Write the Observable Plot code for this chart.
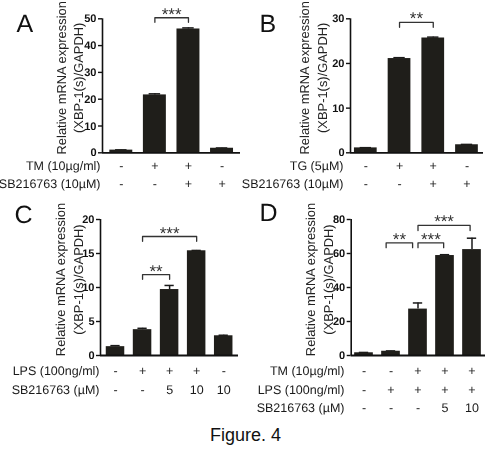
<!DOCTYPE html>
<html><head><meta charset="utf-8">
<script src="https://cdn.jsdelivr.net/npm/d3@7"></script>
<script src="https://cdn.jsdelivr.net/npm/@observablehq/plot@0.6"></script>
<style>
body{margin:0;background:#fff;}
#fig{position:relative;width:486px;height:450px;font-family:'Liberation Sans',Arial,sans-serif;}
#fig svg{position:absolute;overflow:visible;will-change:transform;}
#fig svg text{text-rendering:geometricPrecision;}
#caption{position:absolute;left:210px;top:426px;font-size:18px;line-height:18px;color:#111;white-space:nowrap;}
</style></head><body>
<div id="fig"></div>
<script>
// ---------- data ----------
const yLabel1 = "Relative mRNA expression";
const yLabel2 = "(XBP-1(s)/GAPDH)";
const caption = "Figure. 4";

// Panel A
const aValues = [1.0, 21.6, 46.2, 1.7];
const aErrors = [0.1, 0.4, 0.4, 0.1];
const aTicks = [0, 10, 20, 30, 40, 50];
const aRowLabels = ["TM (10µg/ml)", "SB216763 (10µM)"];
const aRowTM = ["-", "+", "+", "-"];
const aRowSB = ["-", "-", "+", "+"];
const aBrackets = [{from: 1, to: 2, level: 50.4, drop: 48.7, label: "***"}];

// Panel B
const bValues = [1.1, 21.1, 25.7, 1.8];
const bErrors = [0.05, 0.2, 0.2, 0.08];
const bTicks = [0, 10, 20, 30];
const bRowLabels = ["TG (5µM)", "SB216763 (10µM)"];
const bRowTG = ["-", "+", "+", "-"];
const bRowSB = ["-", "-", "+", "+"];
const bBrackets = [{from: 1, to: 2, level: 29.2, drop: 28.1, label: "**"}];

// Panel C
const cValues = [1.3, 3.8, 9.7, 15.4, 2.9];
const cErrors = [0.15, 0.2, 0.6, 0.05, 0.08];
const cTicks = [0, 5, 10, 15, 20];
const cRowLabels = ["LPS (100ng/ml)", "SB216763 (µM)"];
const cRowLPS = ["-", "+", "+", "+", "-"];
const cRowSB = ["-", "-", "5", "10", "10"];
const cBrackets = [
  {from: 1, to: 3, level: 17.5, drop: 16.8, label: "***"},
  {from: 1, to: 2, level: 11.9, drop: 11.2, label: "**"}
];

// Panel D
const dValues = [1.6, 2.5, 27.3, 58.8, 62.3];
const dErrors = [0.2, 0.2, 3.6, 0.5, 6.7];
const dTicks = [0, 20, 40, 60, 80];
const dRowLabels = ["TM (10µg/ml)", "LPS (100ng/ml)", "SB216763 (µM)"];
const dRowTM = ["-", "-", "+", "+", "+"];
const dRowLPS = ["-", "+", "+", "+", "+"];
const dRowSB = ["-", "-", "-", "5", "10"];
const dBrackets = [
  {from: 0.82, to: 1.8, level: 66.3, drop: 63.4, label: "**"},
  {from: 2, to: 2.95, level: 66.3, drop: 63.4, label: "***"},
  {from: 2, to: 3.93, level: 76.5, drop: 73.5, label: "***"}
];

// ---------- layout ----------
const panels = [
  {letter: "A", values: aValues, errors: aErrors, ticks: aTicks, rowLabels: aRowLabels, rows: [aRowTM, aRowSB], brackets: aBrackets,
   left: 0, top: 0, width: 243, height: 200, mL: 102, mR: 3, mT: 18.3, mB: 47.7, xDom: [-0.56, 3.55], hw: 0.342,
   rowDy: [13, 31], rowLabelX: 100, letterX: 16, letterY: 31, ylabX: [61, 78]},
  {letter: "B", values: bValues, errors: bErrors, ticks: bTicks, rowLabels: bRowLabels, rows: [bRowTG, bRowSB], brackets: bBrackets,
   left: 243, top: 0, width: 243, height: 200, mL: 107, mR: 3, mT: 18.3, mB: 47.7, xDom: [-0.454, 3.49], hw: 0.337,
   rowDy: [13, 31], rowLabelX: 100, letterX: 16, letterY: 31, ylabX: [61, 79]},
  {letter: "C", values: cValues, errors: cErrors, ticks: cTicks, rowLabels: cRowLabels, rows: [cRowLPS, cRowSB], brackets: cBrackets,
   left: 0, top: 200, width: 243, height: 220, mL: 100, mR: 5, mT: 19, mB: 65, xDom: [-0.555, 4.547], hw: 0.342,
   rowDy: [15.7, 34.3], rowLabelX: 99, letterX: 14, letterY: 22, ylabX: [60, 78]},
  {letter: "D", values: dValues, errors: dErrors, ticks: dTicks, rowLabels: dRowLabels, rows: [dRowTM, dRowLPS, dRowSB], brackets: dBrackets,
   left: 243, top: 200, width: 243, height: 220, mL: 107.7, mR: 1, mT: 19, mB: 65, xDom: [-0.474, 4.5], hw: 0.346,
   rowDy: [15.7, 34, 52.7], rowLabelX: 101, letterX: 16, letterY: 20, ylabX: [67, 85]}
];

const barFill = "#1f1e1a";
const fig = document.getElementById("fig");

for (const p of panels) {
  const bars = p.values.map((v, i) => ({i, value: v, err: p.errors[i]}));
  const bracketPts = p.brackets.flatMap((b, k) => [
    {k, x: b.from, y: b.drop}, {k, x: b.from, y: b.level},
    {k, x: b.to, y: b.level}, {k, x: b.to, y: b.drop}
  ]);
  const rowMarks = p.rows.flatMap((row, r) => [
    Plot.text(row, {x: (d, i) => i, text: d => d, frameAnchor: "bottom", dy: p.rowDy[r], lineAnchor: "middle", textAnchor: "middle", fontSize: 12.5, fill: "#1a1a1a"}),
    Plot.text([p.rowLabels[r]], {frameAnchor: "bottom-left", textAnchor: "end", lineAnchor: "middle", dx: p.rowLabelX - p.mL, dy: p.rowDy[r], fontSize: 12.5, fill: "#1a1a1a"})
  ]);
  const chart = Plot.plot({
    width: p.width, height: p.height,
    marginLeft: p.mL, marginRight: p.mR, marginTop: p.mT, marginBottom: p.mB,
    x: {domain: p.xDom, axis: null},
    y: {domain: [0, p.ticks[p.ticks.length - 1]]},
    style: {background: "transparent", overflow: "visible", fontFamily: "'Liberation Sans', Arial, sans-serif", color: "#111"},
    marks: [
      Plot.ruleX(bars, {x: "i", y1: "value", y2: d => d.value + d.err, stroke: "#1a1a1a", strokeWidth: 1.5}),
      Plot.ruleY(bars, {x1: d => d.i - p.hw * 0.5, x2: d => d.i + p.hw * 0.5, y: d => d.value + d.err, stroke: "#1a1a1a", strokeWidth: 1.5}),
      Plot.rectY(bars, {x1: d => d.i - p.hw, x2: d => d.i + p.hw, y: "value", fill: barFill}),
      Plot.ruleY([0], {stroke: "#111", strokeWidth: 1.8}),
      Plot.ruleX([p.xDom[0]], {stroke: "#111", strokeWidth: 1.6}),
      Plot.axisY({ticks: p.ticks, tickSize: 4, tickPadding: 2, fontSize: 11, fontWeight: "bold", strokeWidth: 1.4, label: null}),
      Plot.line(bracketPts, {x: "x", y: "y", z: "k", stroke: "#333", strokeWidth: 1.3}),
      Plot.text(p.brackets, {x: d => (d.from + d.to) / 2, y: "level", text: "label", lineAnchor: "bottom", dy: 2, fontSize: 17, fill: "#333"}),
      Plot.text([yLabel1], {frameAnchor: "left", textAnchor: "middle", lineAnchor: "middle", rotate: -90, dx: p.ylabX[0] - p.mL, dy: -8, fontSize: 12.9, fill: "#222"}),
      Plot.text([yLabel2], {frameAnchor: "left", textAnchor: "middle", lineAnchor: "middle", rotate: -90, dx: p.ylabX[1] - p.mL, dy: -8, fontSize: 12.9, fill: "#222"}),
      Plot.text([p.letter], {frameAnchor: "top-left", textAnchor: "start", lineAnchor: "bottom", dx: p.letterX - p.mL, dy: p.letterY - p.mT, fontSize: 25, fill: "#111"}),
      ...rowMarks
    ]
  });
  chart.style.left = p.left + "px";
  chart.style.top = p.top + "px";
  fig.appendChild(chart);
}

const cap = document.createElement("div");
cap.id = "caption";
cap.textContent = caption;
fig.appendChild(cap);
</script>
</body></html>
